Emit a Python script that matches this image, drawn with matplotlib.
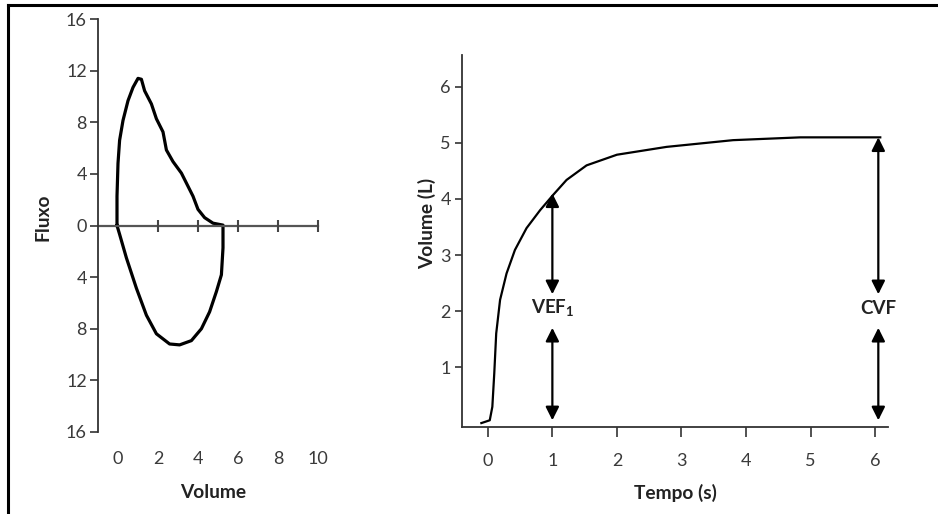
import matplotlib
matplotlib.use("Agg")
import matplotlib.pyplot as plt
from matplotlib.lines import Line2D
from matplotlib.ticker import FuncFormatter

plt.rcParams['font.family'] = ['Lato', 'DejaVu Sans']
plt.rcParams['mathtext.fontset'] = 'custom'
plt.rcParams['mathtext.rm'] = 'Lato'
plt.rcParams['mathtext.bf'] = 'Lato:bold'

# flow-volume loop (volume in L, flow in L/s), clockwise from volume 0
loop_volume = [-0.05, -0.05, 0.0, 0.08, 0.25, 0.5, 0.75, 1.0, 1.17, 1.33, 1.67, 1.92, 2.25,
               2.42, 2.75, 3.17, 3.5, 3.75, 4.0, 4.33, 4.75, 5.25,
               5.25, 5.17, 4.92, 4.58, 4.17, 3.67, 3.08, 2.58, 1.92, 1.42, 0.92, 0.42, 0.08, -0.05]
loop_flow = [0.0, 2.27, 4.82, 6.6, 8.14, 9.67, 10.7, 11.4, 11.33, 10.44, 9.42, 8.27, 7.25,
             5.85, 4.95, 4.06, 3.04, 2.27, 1.25, 0.61, 0.18, 0.03,
             -1.73, -3.82, -5.12, -6.69, -8.0, -8.92, -9.25, -9.18, -8.39, -6.95, -4.86, -2.51, -0.68, 0.0]
flow_ticks = [-16, -12, -8, -4, 0, 4, 8, 12, 16]
volume_ticks = [0, 2, 4, 6, 8, 10]
axis_marks = [2, 4, 6, 8, 10]

# volume-time curve
time_s = [-0.1, 0.03, 0.07, 0.1, 0.13, 0.19, 0.29, 0.42, 0.6, 0.81, 1.01, 1.22, 1.53,
          2.0, 2.77, 3.8, 4.84, 6.08]
volume_l = [0.0, 0.05, 0.29, 0.89, 1.6, 2.2, 2.67, 3.09, 3.48, 3.8, 4.07, 4.34, 4.6,
            4.79, 4.93, 5.05, 5.1, 5.1]
time_ticks = [0, 1, 2, 3, 4, 5, 6]
vol_ticks = [1, 2, 3, 4, 5, 6]
markers = [("VEF$_\\mathbf{1}$", 1.0, 4.1), ("CVF", 6.05, 5.1)]

fig = plt.figure(figsize=(9.38, 5.14), dpi=100)

# outer frame (top and left only)
fig.add_artist(Line2D([8 / 938, 1.0], [1 - 5 / 514, 1 - 5 / 514], color='black', lw=2.2))
fig.add_artist(Line2D([8 / 938, 8 / 938], [0.0, 1 - 5 / 514], color='black', lw=2.2))

tick_col = '#3a3a3a'
label_col = '#222222'

# --- left: flow-volume loop
ax1 = fig.add_axes([98 / 938, (514 - 432) / 514, 232 / 938, 413 / 514])
ax1.plot(loop_volume, loop_flow, color='black', lw=2.3, solid_joinstyle='round')
ax1.plot([-1, 10], [0, 0], color='#555555', lw=1.6)
ax1.plot(axis_marks, [0] * len(axis_marks), ls='none', marker='|', ms=9, mew=1.5, color='#444444')
ax1.set_xlim(-1, 10.6)
ax1.set_ylim(-16, 16)
for s in ['top', 'right', 'bottom']:
    ax1.spines[s].set_visible(False)
ax1.spines['left'].set_linewidth(1.3)
ax1.spines['left'].set_color('#333333')
ax1.set_yticks(flow_ticks)
ax1.yaxis.set_major_formatter(FuncFormatter(lambda v, p: f"{abs(int(v))}"))
ax1.set_xticks(volume_ticks)
ax1.tick_params(axis='y', length=6, width=1.2, pad=2, labelsize=13, color='#333333', labelcolor=tick_col)
ax1.tick_params(axis='x', length=0, pad=14, labelsize=13, labelcolor=tick_col)
fig.text(43 / 938, 1 - 217 / 514, "Fluxo", rotation=90, ha='center', va='center',
         fontsize=13.8, fontweight='bold', color=label_col)
fig.text(213 / 938, 1 - 493 / 514, "Volume", ha='center', va='center',
         fontsize=13.8, fontweight='bold', color=label_col)

# --- right: volume-time curve
ax2 = fig.add_axes([462 / 938, (514 - 427) / 514, 426 / 938, 372 / 514])
ax2.plot(time_s, volume_l, color='black', lw=1.6)
ax2.set_xlim(-0.4, 6.2)
ax2.set_ylim(-0.07, 6.57)
for s in ['top', 'right']:
    ax2.spines[s].set_visible(False)
for s in ['left', 'bottom']:
    ax2.spines[s].set_linewidth(1.3)
    ax2.spines[s].set_color('#333333')
ax2.set_xticks(time_ticks)
ax2.set_yticks(vol_ticks)
ax2.tick_params(axis='y', length=5, width=1.2, pad=3, labelsize=13, color='#333333', labelcolor=tick_col)
ax2.tick_params(axis='x', length=7, width=1.2, pad=12, labelsize=13, color='#333333', labelcolor=tick_col)

arrow = dict(arrowstyle='<|-|>', color='black', lw=1.6, mutation_scale=20, shrinkA=0, shrinkB=0)
for label, t, top in markers:
    ax2.annotate("", xy=(t, top), xytext=(t, 2.3), arrowprops=arrow)
    ax2.annotate("", xy=(t, 1.7), xytext=(t, 0.05), arrowprops=arrow)
    ax2.text(t, 2.05, label, ha='center', va='center', fontsize=13.5, fontweight='bold', color=label_col)

fig.text(427 / 938, 1 - 223 / 514, "Volume (L)", rotation=90, ha='center', va='center',
         fontsize=13.8, fontweight='bold', color=label_col)
fig.text(675 / 938, 1 - 493 / 514, "Tempo (s)", ha='center', va='center',
         fontsize=13.8, fontweight='bold', color=label_col)

fig.savefig("out.png", dpi=100)
